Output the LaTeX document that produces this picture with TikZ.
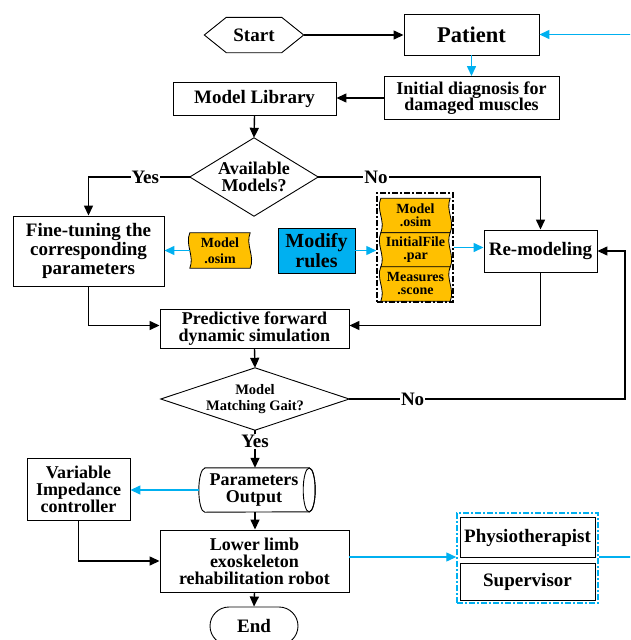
\documentclass[tikz,border=0pt]{standalone}
\usepackage{fontspec}
\setmainfont{Liberation Serif}
\usetikzlibrary{shapes.geometric,shapes.misc,arrows.meta,calc,backgrounds}
\definecolor{cblue}{HTML}{00B0F0}
\definecolor{corange}{HTML}{FFC000}
\begin{document}
\begin{tikzpicture}[x=1pt,y=-1pt,
  every node/.style={font=\bfseries\fontsize{18}{17}\selectfont},
  big/.style={font=\bfseries\fontsize{19}{19}\selectfont},
  box/.style={rectangle, draw, line width=0.9pt, fill=white, inner sep=0pt, align=center},
  ghost/.style={rectangle, inner sep=0pt, align=center},
  docnode/.style={rectangle, inner sep=0pt, align=center, minimum width=69, minimum height=34, font=\bfseries\fontsize{14}{13}\selectfont},
  docfill/.style={fill=corange, draw, line width=0.8pt},
  arr/.style={line width=1.4pt, -{Triangle[length=10pt,width=9pt]}},
  barr/.style={arr, cblue},
  lbl/.style={fill=white, inner sep=1pt, big},
  grp/.style={line width=1.5pt, dash pattern=on 6pt off 2pt on 2pt off 2pt}]
\useasboundingbox (0,0) rectangle (630,640);
\clip (0,0) rectangle (630,640);

% nodes
\node[ghost, big, minimum width=99, minimum height=35] (start) at (254,35) {Start};
\draw[line width=0.9pt] (start.west) -- ($(start.north west)+(22,0)$) -- ($(start.north east)+(-22,0)$) -- (start.east) -- ($(start.south east)+(-22,0)$) -- ($(start.south west)+(22,0)$) -- cycle;
\node[box, minimum width=135, minimum height=41, font=\bfseries\fontsize{22.5}{22}\selectfont] (patient) at (471.5,34.5) {Patient};
\node[box, minimum width=175, minimum height=43, font=\bfseries\fontsize{18}{16.5}\selectfont] (diag) at (471.5,98) {Initial diagnosis for\\damaged muscles};
\node[box, big, minimum width=163, minimum height=33] (lib) at (254.5,99) {Model Library};
\node[ghost, minimum width=128, minimum height=78] (avail) at (254,177) {Available\\Models?};
\draw[line width=0.9pt] (avail.west) -- (avail.north) -- (avail.east) -- (avail.south) -- cycle;
\node[box, big, minimum width=151, minimum height=70] (fine) at (88.5,251) {Fine-tuning the\\corresponding\\parameters};
\node[docnode, minimum width=60, minimum height=35, font=\bfseries\fontsize{14}{16}\selectfont] (doc1) at (220,250.5) {Model\\.osim};
\node[box, fill=cblue, minimum width=77, minimum height=45, font=\bfseries\fontsize{20}{20}\selectfont] (modify) at (316.5,250.5) {Modify\\rules};
\node[docnode] (docA) at (415.5,215.5) {Model\\.osim};
\node[docnode] (docB) at (415.5,250) {InitialFile\\.par};
\node[docnode] (docC) at (415.5,284) {Measures\\.scone};
\node[ghost, minimum width=76, minimum height=109, draw, grp] (grp1) at (415,247.5) {};
\node[box, big, minimum width=113, minimum height=42] (remod) at (540.5,251) {Re-modeling};
\node[box, minimum width=189, minimum height=39] (pred) at (254.5,328.5) {Predictive forward\\dynamic simulation};
\node[ghost, minimum width=188, minimum height=62, font=\bfseries\fontsize{14.5}{16}\selectfont] (match) at (255,399) {Model\\Matching Gait?};
\draw[line width=0.9pt] (match.west) -- (match.north) -- (match.east) -- (match.south) -- cycle;
% cylinder: body between the two end ellipses
\node[ghost, minimum width=104, minimum height=44] (params) at (257,490) {};
\path[draw, fill=white, line width=0.9pt] (params.north west) -- (params.north east)
  arc[start angle=-90, end angle=90, x radius=6, y radius=22] -- (params.south west)
  arc[start angle=90, end angle=270, x radius=6, y radius=22] -- cycle;
\draw[line width=0.9pt] (params.east) ellipse [x radius=6, y radius=22];
\node[ghost] (paramstext) at (254,490) {Parameters\\Output};
\node[box, minimum width=103, minimum height=62] (vi) at (78.5,489) {Variable\\Impedance\\controller};
\node[box, minimum width=189, minimum height=62] (lower) at (254.5,561) {Lower limb\\exoskeleton\\rehabilitation robot};
\node[ghost, minimum width=141, minimum height=90, draw=cblue, grp] (grp2) at (527.5,558) {};
\node[box, big, minimum width=135, minimum height=40] (phys) at (527.5,537.5) {Physiotherapist};
\node[box, big, minimum width=135, minimum height=37] (sup) at (527.5,581.5) {Supervisor};
\node[rounded rectangle, big, draw, line width=0.9pt, minimum width=88, minimum height=38, inner sep=0pt] (end) at (254,626) {End};

\begin{scope}[on background layer]
\foreach \n in {doc1,docA,docB,docC}{
  \path[docfill] (\n.north west) .. controls +(-5,12) and +(5,-12) .. (\n.south west) -- (\n.south east) .. controls +(5,-12) and +(-5,12) .. (\n.north east) -- cycle;
}
\end{scope}

% connectors
\coordinate (nocorner) at (625,399);
\coordinate (fbcorner) at (640,557);
\coordinate (pleft) at ($(params.west)+(-6,0)$);
\draw[arr] (start.east) -- (start.east -| patient.west);
\draw[barr] (patient.south) -- (diag.north);
\draw[arr] (diag.west) -- (diag.west -| lib.east);
\draw[arr] (lib.south) -- (avail.north);
\draw[arr] (avail.west) -| node[lbl, pos=0.22] {Yes} (fine.north);
\draw[arr] (avail.east) -| node[lbl, pos=0.13] {No} (remod.north);
\draw[barr] (doc1.west) -- (doc1.west -| fine.east);
\draw[barr] (modify.east) -- (modify.east -| grp1.west);
\draw[barr] (grp1.east) -- (grp1.east -| remod.west);
\draw[arr] (fine.south) |- ($(pred.west)+(0,-3)$);
\draw[arr] (remod.south) |- ($(pred.east)+(0,-3)$);
\draw[arr] (pred.south) -- (match.north);
\draw[arr] (match.east) -- node[lbl, pos=0.23] {No} (nocorner) |- (remod.east);
\draw[arr] (match.south) -- node[lbl, pos=0.3] {Yes} (match.south |- params.north);
\draw[barr] (pleft) -- (pleft -| vi.east);
\draw[arr] (match.south |- params.south) -- (match.south |- lower.north);
\draw[arr] (vi.south) |- (lower.west);
\draw[barr] ($(lower.east)+(0,-4)$) -- ($(grp2.west)+(0,-1)$);
\draw[arr] (lower.south) -- (end.north);
\draw[barr] ($(grp2.east)+(0,-1)$) -- (fbcorner) |- (patient.east);
\end{tikzpicture}
\end{document}
